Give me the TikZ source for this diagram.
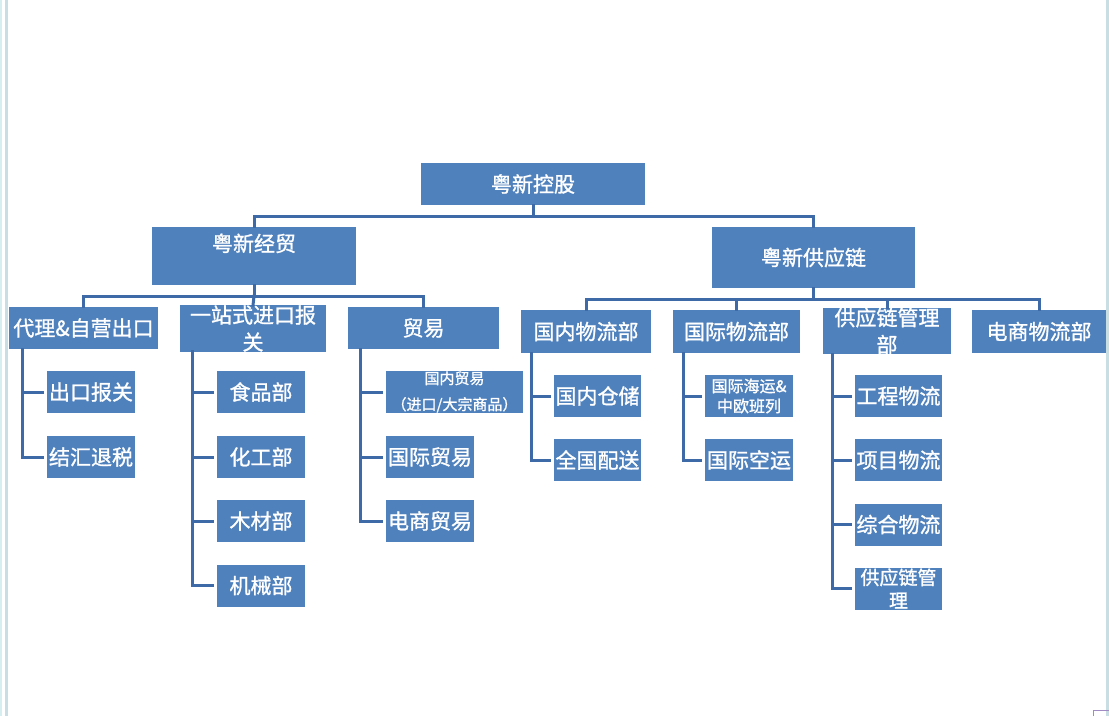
\documentclass[tikz,border=0pt]{standalone}
\usepackage{fontspec}
\usepackage{tikz}
\newfontfamily\cjk{Noto Sans CJK SC}[FakeBold=1.2,AutoFakeBold=1.2]
\definecolor{boxblue}{RGB}{79,129,189}
\definecolor{linkblue}{RGB}{62,106,168}
\definecolor{edgecyan}{RGB}{214,238,240}
\definecolor{edgegray}{RGB}{200,222,226}
\definecolor{cornerpurple}{RGB}{160,140,195}
\tikzset{
  box/.style={fill=boxblue,text=white,inner sep=0pt,align=center,font=\cjk\bfseries\fontsize{21}{27}\selectfont},
  subbox/.style={box,minimum width=88pt,minimum height=42pt},
  link/.style={draw=linkblue,line width=3pt,line cap=rect}
}
\begin{document}
\begin{tikzpicture}[line join=miter,x=1pt,y=-1pt]
\useasboundingbox (0,0) rectangle (1109,716);
\fill[edgecyan] (0,0) rectangle (2,716);
\fill[edgegray] (5,0) rectangle (8,716);
\fill[edgegray] (1106,0) rectangle (1109,716);
\draw[cornerpurple,line width=1pt] (1093,716) -- (1093,710.5) -- (1109,710.5);
% top levels
\node[box,minimum width=224pt,minimum height=42pt] (gk) at (533,184) {粤新控股};
\node[box,minimum width=204pt,minimum height=58pt] (jm) at (254,256) {粤新经贸\\ \mbox{}};
\node[box,minimum width=203pt,minimum height=61pt] (gyl) at (813.5,257.5) {粤新供应链};
\node[box,minimum width=149pt,minimum height=42pt] (dl) at (83.5,328) {代理\&自营出口};
\node[box,minimum width=146pt,minimum height=42pt] (yz) at (253,328.5) {一站式进口报\\关};
\node[box,minimum width=151pt,minimum height=42pt] (my) at (423.5,328) {贸易};
\node[box,minimum width=130pt,minimum height=43pt] (gn) at (586,331.5) {国内物流部};
\node[box,minimum width=127pt,minimum height=43pt] (gj) at (736.5,331.5) {国际物流部};
\node[box,minimum width=128pt,minimum height=43pt] (gm) at (887,331) {供应链管理\\部};
\node[box,minimum width=134pt,minimum height=43pt] (ds) at (1039,331.5) {电商物流部};
% sub boxes
\node[subbox] (ck) at (91,392) {出口报关};
\node[subbox] (jh) at (91,457) {结汇退税};
\node[subbox] (sp) at (261,392) {食品部};
\node[subbox] (hg) at (261,457) {化工部};
\node[subbox] (mc) at (261,521) {木材部};
\node[subbox] (jx) at (261,585.5) {机械部};
\node[subbox,minimum width=137pt,font=\cjk\bfseries\fontsize{15}{26}\selectfont] (gnmy) at (454.5,392) {国内贸易\\（进口/大宗商品）};
\node[subbox] (gjmy) at (430,457) {国际贸易};
\node[subbox] (dsmy) at (430,521) {电商贸易};
\node[subbox,minimum width=87pt] (cc) at (597.5,396) {国内仓储};
\node[subbox,minimum width=87pt] (ps) at (597.5,460) {全国配送};
\node[subbox,font=\cjk\bfseries\fontsize{16}{20}\selectfont] (hy) at (749,396) {国际海运\&\\中欧班列};
\node[subbox] (ky) at (749,460) {国际空运};
\node[subbox,minimum width=87pt] (gc) at (898.5,396) {工程物流};
\node[subbox,minimum width=87pt] (xm) at (898.5,460) {项目物流};
\node[subbox,minimum width=87pt] (zh) at (898.5,524.5) {综合物流};
\node[subbox,minimum width=87pt,font=\cjk\bfseries\fontsize{19}{23}\selectfont] (gl) at (898.5,588.5) {供应链管\\理};
% tree lines
\draw[link] (gk.south) -- ++(0,11) coordinate (b0);
\draw[link] (jm.north) |- (b0) -| (gyl.north);
\draw[link] (jm.south) -- ++(0,11) coordinate (b1);
\draw[link] (dl.north) |- (b1) -| (my.north);
\draw[link] (yz.north) -- (b1);
\draw[link] (gyl.south) -- ++(0,11) coordinate (b2);
\draw[link] (gn.north) |- (b2) -| (ds.north);
\draw[link] (gj.north) |- (b2);
\draw[link] (gm.north) |- (b2);
% side lists
\foreach \p/\s/\c in {dl/14/ck,dl/14/jh,yz/13/sp,yz/13/hg,yz/13/mc,yz/13/jx,my/13/gnmy,my/13/gjmy,my/13/dsmy,gn/11/cc,gn/11/ps,gj/11/hy,gj/11/ky,gm/10/gc,gm/10/xm,gm/10/zh,gm/10/gl}
  \draw[link] ([xshift=\s pt]\p.south west) |- ([xshift=-4pt]\c.west);
\end{tikzpicture}
\end{document}
